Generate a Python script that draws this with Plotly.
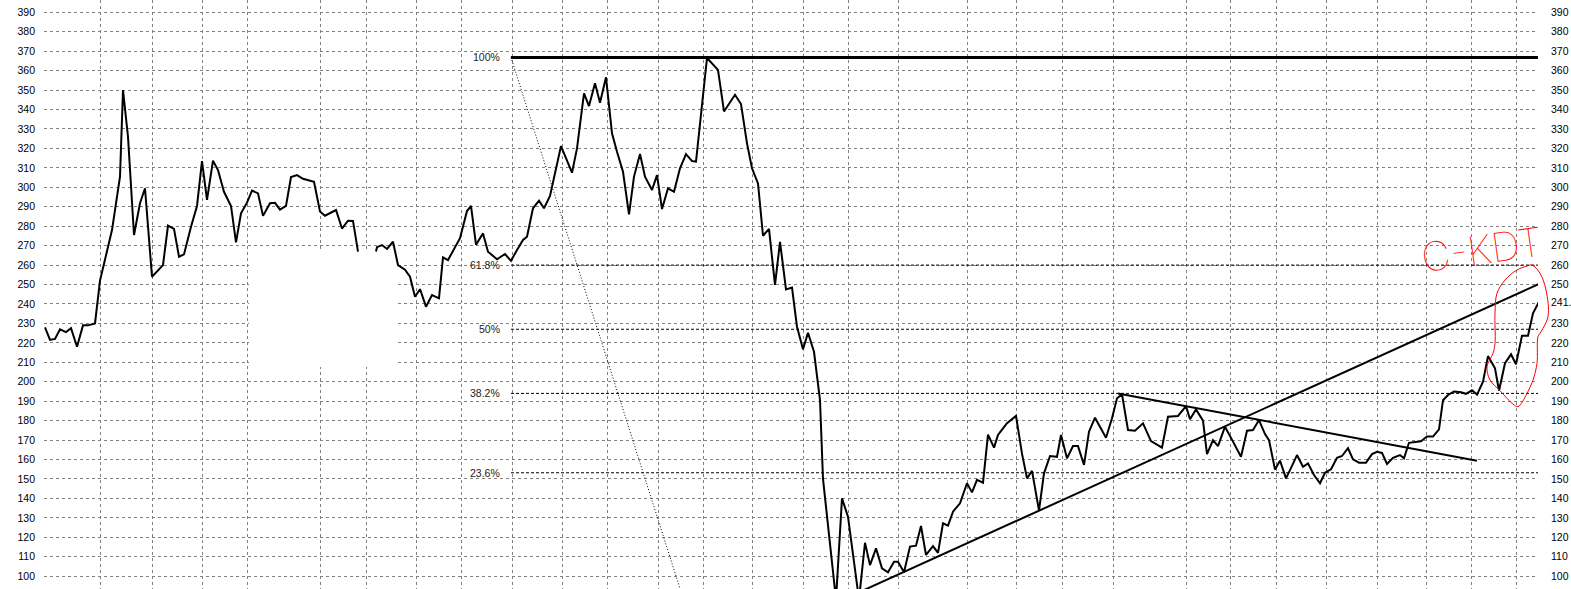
import plotly.graph_objects as go

# ---------------- data ----------------
# bar position (time index) and price
t = [1, 6, 11, 16, 22, 27, 33, 39, 44, 51, 56, 68, 76, 79, 84, 90, 96, 101, 108, 119,
     124, 130, 135, 140, 147, 153, 158, 163, 169, 174, 180, 187, 192, 197, 203, 208, 214, 219, 226, 231,
     236, 242, 247, 253, 259, 270, 276, 281, 292, 298, 304, 309, 314, 323, 332, 333, 338, 343, 349, 354,
     361, 366, 371, 376, 382, 388, 395, 399, 404, 410, 416, 423, 427, 432, 439, 444, 453, 461, 467, 473,
     479, 483, 489, 495, 500, 506, 517, 528, 533, 540, 545, 551, 556, 562, 568, 573, 579, 585, 590, 596,
     601, 608, 613, 618, 624, 630, 636, 642, 648, 652, 663, 674, 680, 691, 697, 703, 708, 714, 719, 725,
     731, 736, 742, 748, 753, 759, 764, 770, 776, 779, 792, 798, 804, 815, 821, 826, 832, 838, 844, 850,
     854, 860, 866, 872, 877, 882, 889, 894, 899, 904, 909, 916, 923, 928, 933, 939, 944, 950, 954, 959,
     963, 972, 978, 983, 988, 995, 1000, 1006, 1013, 1017, 1023, 1029, 1034, 1040, 1045, 1051, 1062, 1068, 1073, 1078,
     1084, 1091, 1099, 1107, 1118, 1124, 1134, 1142, 1146, 1152, 1159, 1163, 1169, 1174, 1181, 1189, 1197, 1203, 1209, 1215,
     1221, 1225, 1231, 1236, 1242, 1248, 1253, 1259, 1264, 1270, 1276, 1281, 1287, 1293, 1298, 1304, 1309, 1315, 1322, 1328,
     1333, 1338, 1343, 1349, 1356, 1360, 1365, 1377, 1383, 1389, 1395, 1399, 1404, 1410, 1417, 1422, 1428, 1433, 1439, 1444,
     1451, 1455, 1461, 1467, 1472, 1478, 1484, 1489, 1495]
price = [228, 221.5, 222, 227, 225.5, 227.5, 218, 229, 229, 230, 252, 278, 305.5, 350, 326, 275.5, 291.8, 299.5, 254, 260,
         280.3, 278.6, 264.3, 265.5, 279.7, 290.4, 313.5, 293.5, 313.7, 308.9, 297.7, 290.4, 271.7, 286.6, 292.1, 298.3, 296.9, 285.3, 291.8, 292,
         288.5, 290.4, 305.3, 306.3, 304.4, 302.8, 287.6, 285.4, 288.3, 278.8, 282.8, 282.7, 266.9, None, 267, 269.2, 270.3, 268.3, 272, 260,
         257.6, 254, 243.7, 247.6, 238.6, 244.6, 242.9, 264, 262.6, 268.3, 273.8, 287.8, 290.4, 270.5, 276.3, 266.9, 263, 265.7, 262.2, 267.8,
         272.9, 274.6, 289.2, 293.1, 289.2, 295.6, 321.2, 307.5, 320, 348.3, 341.8, 353.5, 343.5, 356.6, 327.8, 318.3, 308, 286.1, 305.5, 317.1,
         305.5, 298.6, 306.3, 288.8, 299.5, 297.7, 309.8, 317.1, 313.5, 313.2, 366.5, 360.4, 339, 347.6, 342.8, 322.6, 309.8, 302, 275.1, 278.6,
         249.8, 272, 247.5, 248.4, 228.3, 216.7, 225.2, 215.4, 190.6, 150, 88, 140, 130.6, 88, 117.2, 105.7, 114.3, 104, 102, 107.4,
         107.4, 102, 115.2, 115.7, 125.8, 110.9, 115.5, 112, 127.2, 126, 133.2, 137.5, 147.8, 143.1, 149.5, 148.1, 172.8, 166.1, 172.6, 176,
         178.7, 182.4, 163, 150.3, 154.2, 133.8, 152.9, 161.8, 161.4, 172.6, 160.6, 166.9, 166.9, 157.2, 174.3, 181.5, 171.2, 181.2, 191.5, 193.5,
         175.2, 174.8, 178.6, 169.5, 166.1, 182, 182.4, 187.5, 180.7, 185.8, 180, 162.8, 170, 166.9, 176.9, 169.2, 161.4, 174.8, 175.2, 180.3,
         173.1, 170, 154.9, 159.4, 150.3, 156.7, 162.3, 156.3, 158, 152, 147.8, 153.2, 155, 160.9, 161.8, 165.8, 160.1, 158.4, 158.4, 162.8,
         164, 163.4, 157.7, 160.9, 162.3, 160.6, 168.6, 169.4, 171.8, 171.8, 175.5, 190.5, 193.2, 195, 194.6, 193.8, 195.6, 193.4, 200, 213.2,
         206.9, 195.4, 209.5, 214.1, 209, 223.7, 223.7, 235.2, 241.2]

# vertical grid positions (time index)
grid_t = [0, 56, 108, 158, 203, 276, 322, 372, 417, 468, 518, 563, 614, 659, 708, 759, 804, 854, 923,
          972, 1018, 1069, 1142, 1186, 1232, 1282, 1333, 1382, 1427, 1472]

# price ticks
y_ticks = list(range(100, 400, 10))
right_ticks = [v for v in y_ticks if v != 240] + [241]
right_text = [str(v) for v in y_ticks if v != 240] + ["241."]

# Fibonacci retracement tool
fib_start_t = 467
fib_end_t = 1500
fib_high = 366.8
fib_low = 87.2
fib_low_t = 640
fib_ratios = [1.0, 0.618, 0.5, 0.382, 0.236]
fib_labels = ["100%", "61.8%", "50%", "38.2%", "23.6%"]

# trend lines (start / end)
rise_t = [815, 1495]
rise_v = [91.7, 250.3]
fall_t = [1074, 1433]
fall_v = [194.0, 159.4]

# red hand-drawn loop
loop_t = [1488, 1496, 1502, 1504, 1497, 1494, 1493, 1489, 1483, 1474, 1469, 1456, 1446, 1443, 1449,
          1451, 1451, 1453, 1461, 1473, 1483, 1488]
loop_v = [260.0, 255.8, 247.2, 233.5, 225.7, 223.2, 209.5, 200.9, 194.0, 187.2, 188.5, 195.4, 200.9, 207.7, 214.6,
          219.8, 235.2, 245.5, 252.3, 257.5, 259.5, 260.0]
note_text = "C-KDT"
note_t = 1438
note_v = 268

# erased patch in the background grid
patch_t = [205, 352]
patch_v = [207.6, 268.3]

# ---------------- figure ----------------
W, H = 1571, 589
ML = 44
PLOT_W = 1494
Y_RANGE = [93.41, 396.33]
X_RANGE = [0, PLOT_W]

GRID = dict(showgrid=True, gridcolor="#808080", gridwidth=1, griddash="3px,3px")
TICKFONT = dict(family="Liberation Sans, Arial, sans-serif", size=10.5, color="#000000")

fig = go.Figure()

# Fibonacci lines
for r, lab in zip(fib_ratios, fib_labels):
    lvl = fib_low + r * (fib_high - fib_low)
    if r == 1.0:
        ln = dict(color="black", width=3)
    else:
        ln = dict(color="black", width=1, dash="3px,2px")
    fig.add_trace(go.Scatter(x=[fib_start_t, fib_end_t], y=[lvl, lvl], mode="lines",
                             line=ln, hoverinfo="skip", showlegend=False))
    fig.add_annotation(x=fib_start_t, y=lvl, text=lab, showarrow=False, xanchor="right",
                       xshift=-9, yanchor="middle",
                       font=dict(family="Liberation Sans, Arial, sans-serif", size=10.5, color="#222222"))

# Fibonacci diagonal
fig.add_trace(go.Scatter(x=[fib_start_t, fib_low_t], y=[fib_high, fib_low], mode="lines",
                         line=dict(color="black", width=1, dash="1px,2px"),
                         hoverinfo="skip", showlegend=False))

# price line
fig.add_trace(go.Scatter(x=t, y=price, mode="lines", connectgaps=False,
                         line=dict(color="black", width=2), hoverinfo="skip", showlegend=False))

# trend lines
fig.add_trace(go.Scatter(x=rise_t, y=rise_v, mode="lines", line=dict(color="black", width=2),
                         hoverinfo="skip", showlegend=False))
fig.add_trace(go.Scatter(x=fall_t, y=fall_v, mode="lines", line=dict(color="black", width=2),
                         hoverinfo="skip", showlegend=False))

# invisible trace to activate right axis
fig.add_trace(go.Scatter(x=[t[0]], y=[price[0]], yaxis="y2", mode="markers",
                         marker=dict(opacity=0), hoverinfo="skip", showlegend=False))

# red loop on an overlay subplot spanning to the figure edge
fig.add_trace(go.Scatter(x=loop_t, y=loop_v, xaxis="x3", yaxis="y3", mode="lines",
                         line=dict(color="#ff0000", width=1, shape="spline", smoothing=1.0),
                         hoverinfo="skip", showlegend=False))
fig.add_annotation(x=note_t, y=note_v, xref="x3", yref="y3", text=note_text, showarrow=False,
                   textangle=-8, font=dict(family="Inter, Liberation Sans, sans-serif", size=40,
                                           color="#ff0000", weight=100))

# erased patch
fig.add_shape(type="rect", xref="x", yref="y", x0=patch_t[0], x1=patch_t[1], y0=patch_v[0], y1=patch_v[1],
              fillcolor="white", line=dict(width=0), layer="between")

fig.update_layout(
    width=W, height=H,
    margin=dict(l=ML, r=0, t=0, b=0, pad=0, autoexpand=False),
    paper_bgcolor="white", plot_bgcolor="rgba(0,0,0,0)",
    showlegend=False,
    xaxis=dict(range=X_RANGE, domain=[0, PLOT_W / (W - ML)], tickvals=grid_t, showticklabels=False,
               ticks="", zeroline=False, showline=False, anchor="y", automargin=False, **GRID),
    yaxis=dict(range=Y_RANGE, tickvals=y_ticks, side="left", ticks="", zeroline=False, showline=False,
               tickfont=TICKFONT, ticklabelstandoff=8, anchor="x", automargin=False, **GRID),
    yaxis2=dict(range=Y_RANGE, overlaying="y", side="right", anchor="x", tickvals=right_ticks,
                ticktext=right_text, ticks="", showgrid=False, zeroline=False, showline=False,
                tickfont=TICKFONT, ticklabelstandoff=12, automargin=False),
    xaxis3=dict(range=[0, W - ML], domain=[0, 1], anchor="y3", visible=False),
    yaxis3=dict(range=Y_RANGE, domain=[0, 1], anchor="x3", visible=False),
)

fig.write_html("out.html", include_plotlyjs=True, full_html=True,
               config={"displayModeBar": False, "staticPlot": True},
               post_script="document.body.style.margin='0';document.body.style.overflow='hidden';")
